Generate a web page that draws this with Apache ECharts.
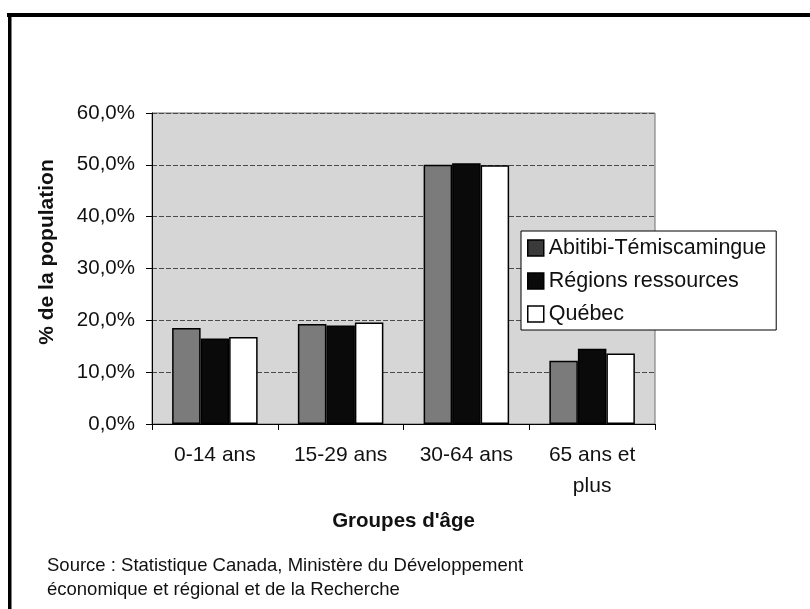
<!DOCTYPE html>
<html>
<head>
<meta charset="utf-8">
<script src="https://cdn.jsdelivr.net/npm/echarts@6/dist/echarts.min.js"></script>
<style>
html,body{margin:0;padding:0;background:#fff;}
#chart{width:810px;height:609px;}
</style>
</head>
<body>
<div id="chart"></div>
<script>
// Data (percent of population)
const categories = ['0-14 ans', '15-29 ans', '30-64 ans', '65 ans et\nplus'];
const seriesNames = ['Abitibi-Témiscamingue', 'Régions ressources', 'Québec'];
const abitibi = [18.5, 19.3, 50.0, 12.2];
const regions = [16.5, 19.0, 50.3, 14.5];
const quebec = [16.8, 19.6, 49.9, 13.6];
const yTicks = [0, 10, 20, 30, 40, 50, 60];
const xTitle = "Groupes d'âge";
const yTitle = '% de la population';
const sourceLines = ['Source : Statistique Canada, Ministère du Développement', 'économique et régional et de la Recherche'];

const FONT = '"Liberation Sans", Arial, Helvetica, sans-serif';
const chart = echarts.init(document.getElementById('chart'), null, {renderer: 'canvas'});

const barBorder = {borderColor: '#000', borderWidth: 1.5};
const colors = ['#7b7b7b', '#0a0a0a', '#ffffff'];
const legendIconColors = ['#3a3a3a', '#0a0a0a', '#ffffff'];
const values = [abitibi, regions, quebec];

chart.setOption({
  animation: false,
  backgroundColor: '#ffffff',
  textStyle: {fontFamily: FONT},
  grid: {
    left: 152, right: 155, top: 113, bottom: 185,
    show: true, backgroundColor: '#d6d6d6', borderColor: '#6e6e6e', borderWidth: 1
  },
  title: {
    text: sourceLines.join('\n'),
    left: 47, top: 554, padding: 0,
    textStyle: {fontFamily: FONT, fontSize: 18.5, fontWeight: 'normal', color: '#111', lineHeight: 24}
  },
  legend: {
    orient: 'vertical',
    left: 521, top: 231,
    padding: [5, 10, 4, 6],
    itemGap: 9,
    itemWidth: 16, itemHeight: 16,
    icon: 'rect',
    backgroundColor: '#ffffff',
    borderColor: '#000', borderWidth: 1,
    textStyle: {fontFamily: FONT, fontSize: 21.5, color: '#111', lineHeight: 24},
    data: seriesNames.map((n, i) => ({name: n, itemStyle: {color: legendIconColors[i], borderColor: '#000', borderWidth: 1.5}}))
  },
  xAxis: {
    type: 'category',
    data: categories,
    name: xTitle,
    nameLocation: 'middle',
    nameGap: 87,
    nameTextStyle: {fontFamily: FONT, fontSize: 20.5, fontWeight: 'bold', color: '#111'},
    axisLine: {show: true, lineStyle: {color: '#000', width: 1}},
    axisTick: {show: true, length: 6, lineStyle: {color: '#000'}},
    axisLabel: {fontFamily: FONT, fontSize: 21, color: '#111', margin: 16, lineHeight: 31, interval: 0},
    splitLine: {show: false}
  },
  yAxis: {
    type: 'value',
    min: yTicks[0], max: yTicks[yTicks.length - 1], interval: 10,
    axisLine: {show: true, lineStyle: {color: '#000', width: 1}},
    axisTick: {show: true, length: 6, lineStyle: {color: '#000'}},
    axisLabel: {
      fontFamily: FONT, fontSize: 20.5, color: '#111', margin: 17,
      formatter: v => v.toFixed(1).replace('.', ',') + '%'
    },
    splitLine: {show: true, lineStyle: {color: '#4a4a4a', width: 1, type: [5, 2]}}
  },
  graphic: [
    {type: 'text', x: 47, y: 252, rotation: Math.PI / 2,
     style: {text: yTitle, fill: '#111', font: 'bold 21px ' + FONT, align: 'center', verticalAlign: 'middle'}},
    {type: 'rect', shape: {x: 7, y: 13, width: 803, height: 4}, style: {fill: '#000'}, silent: true},
    {type: 'rect', shape: {x: 8, y: 13, width: 3.5, height: 596}, style: {fill: '#000'}, silent: true}
  ],
  series: seriesNames.map((name, i) => ({
    name: name,
    type: 'bar',
    data: values[i],
    barGap: '0%',
    barCategoryGap: '32%',
    itemStyle: Object.assign({color: colors[i]}, barBorder),
    emphasis: {disabled: true}
  }))
});
</script>
</body>
</html>
